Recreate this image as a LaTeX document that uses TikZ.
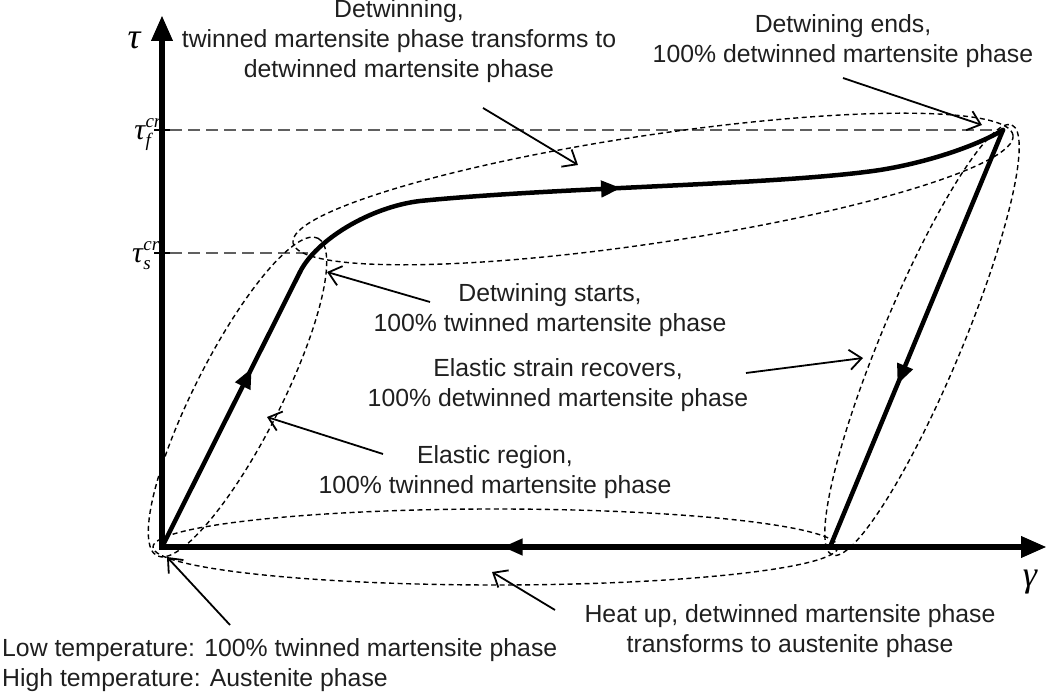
\documentclass[tikz,border=0pt]{standalone}
\usepackage{fontspec}
\setmainfont{Liberation Sans}
\newfontfamily\serifit{Liberation Serif}
\usetikzlibrary{arrows.meta,decorations.markings}
\newcommand{\tcr}[1]{{\serifit\itshape\fontsize{30}{30}\selectfont τ\kern0.5pt\rlap{\raisebox{0.42em}{\fontsize{19}{19}\selectfont cr}}\raisebox{-0.22em}{\fontsize{19}{19}\selectfont #1}\kern6pt}}
\begin{document}
\begin{tikzpicture}[x=1pt,y=-1pt,
  lbl/.style={font=\fontsize{24.8}{30}\selectfont, align=center, inner sep=0pt, text=black!88},
  axis/.style={line width=6.5pt, -{Triangle[length=26pt,width=20pt]}},
  curve/.style={line width=4.5pt, line cap=round, line join=round},
  env/.style={line width=1.4pt, dash pattern=on 5pt off 3.5pt},
  guide/.style={line width=1.8pt, gray!75!black, dash pattern=on 12pt off 6pt},
  pointer/.style={line width=1.8pt, -{Straight Barb[length=12pt,width=20pt]}},
  midarrow/.style={postaction={decorate}, decoration={markings, mark=at position #1 with {\arrow{Triangle[length=20pt,width=16pt]}}}},
]
\useasboundingbox (0,0) rectangle (1050,692);
% key points
\coordinate (O) at (162,547);
\coordinate (P) at (300,272);
\coordinate (A) at (313,253);
\coordinate (B) at (1003,130);
\coordinate (C) at (830,547);
\coordinate (Ytop) at (162,15);
\coordinate (Xend) at (1047,547);
\coordinate (Obase) at (162,550);
\coordinate (Oleft) at (159,547);
% guides
\coordinate (gf) at (170,130);
\coordinate (gs) at (170,253);
\coordinate (tf) at (154,130);
\coordinate (ts) at (154,253);
\draw[guide] (gf) -- (B);
\draw[guide] (gs) -- (A);
\draw[line width=1.8pt] (tf) -- (gf);
\draw[line width=1.8pt] (ts) -- (gs);
% envelopes
\draw[env, rotate around={63.1:(237.5,397)}] (237.5,397) ellipse [x radius=178, y radius=43];
\draw[env, rotate around={8.5:(653,189)}] (653,189) ellipse [x radius=364, y radius=54];
\draw[env, rotate around={67.3:(922,340)}] (922,340) ellipse [x radius=233, y radius=40];
\draw[env] (495.5,547) ellipse [x radius=342.5, y radius=38];
% axes
\draw[axis] (Obase) -- (Ytop);
\draw[axis] (Oleft) -- (Xend);
% loading path
\draw[curve, midarrow=0.65] (O) -- (P);
\draw[curve, midarrow=0.47] (P) .. controls (316,240) and (370,207) .. (420,201) .. controls (560,187) and (780,185) .. (880,170) .. controls (930,162) and (978,145) .. (B);
\draw[curve, midarrow=0.61] (B) -- (C);
\draw[curve, midarrow=0.49] (C) -- (O);
% axis labels
\node[inner sep=0pt] (tau) at (134,40) {\serifit\itshape\fontsize{36}{36}\selectfont τ};
\node[inner sep=0pt] (gam) at (1030,582) {\serifit\itshape\fontsize{36}{36}\selectfont γ};
\node[inner sep=0pt, anchor=base east] (tauf) at (157,140) {\tcr{f}};
\node[inner sep=0pt, anchor=base east] (taus) at (157,263) {\tcr{s}};
% texts
\node[lbl] (t1) at (399,41.5) {Detwinning,\\twinned martensite phase transforms to\\detwinned martensite phase};
\node[lbl] (t2) at (843,41.5) {Detwining ends,\\100\% detwinned martensite phase};
\node[lbl] (t3) at (550,310.5) {Detwining starts,\\100\% twinned martensite phase};
\node[lbl] (t4) at (558,385.5) {Elastic strain recovers,\\100\% detwinned martensite phase};
\node[lbl] (t5) at (495,472) {Elastic region,\\100\% twinned martensite phase};
\node[lbl] (t6) at (790,631.5) {Heat up, detwinned martensite phase\\transforms to austenite phase};
\node[lbl, align=left, anchor=west] (t7) at (2,665.5) {Low temperature: 100\% twinned martensite phase\\High temperature: Austenite phase};
% pointers
\coordinate (p1s) at (483,108); \coordinate (p1e) at (578,165);
\coordinate (p2s) at (843,78);  \coordinate (p2e) at (982,125);
\coordinate (p3s) at (430,302); \coordinate (p3e) at (327,272);
\coordinate (p4s) at (746,373); \coordinate (p4e) at (863,358);
\coordinate (p5s) at (383,454); \coordinate (p5e) at (267,417);
\coordinate (p6s) at (555,610); \coordinate (p6e) at (492,572);
\coordinate (p7s) at (230,625); \coordinate (p7e) at (167,557);
\draw[pointer] (p1s) -- (p1e);
\draw[pointer] (p2s) -- (p2e);
\draw[pointer] (p3s) -- (p3e);
\draw[pointer] (p4s) -- (p4e);
\draw[pointer] (p5s) -- (p5e);
\draw[pointer] (p6s) -- (p6e);
\draw[pointer] (p7s) -- (p7e);
\end{tikzpicture}
\end{document}
